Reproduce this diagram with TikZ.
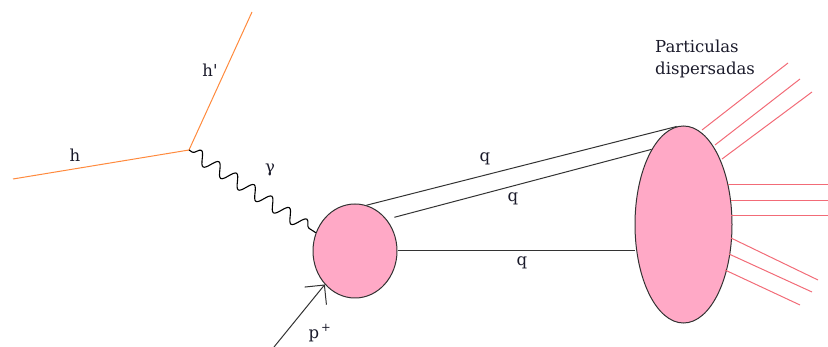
\documentclass[tikz,border=0pt]{standalone}
\usepackage{fontspec}
\setmainfont{DejaVu Serif}
\usetikzlibrary{shapes.geometric,arrows.meta,decorations.pathmorphing}
\definecolor{hadron}{HTML}{FF8A3D}
\definecolor{blob}{HTML}{FFA9C6}
\definecolor{jet}{HTML}{F26B77}
\definecolor{outl}{HTML}{333333}
\definecolor{txtc}{HTML}{1A1A2A}
\begin{document}
\begin{tikzpicture}[x=1pt,y=-1pt,
  lbl/.style={font=\fontsize{16.5}{22}\selectfont, text=txtc, inner sep=0pt},
  hline/.style={draw=hadron, line width=1pt},
  qline/.style={draw=outl, line width=1pt},
  jetline/.style={draw=jet, line width=1pt},
  blobshape/.style={ellipse, draw=outl, fill=blob, line width=1pt, inner sep=0pt},
  photon/.style={draw=black, line width=1.1pt, decorate,
    decoration={snake, amplitude=6.5pt, segment length=21pt, pre length=4pt, post length=3pt}}]
\useasboundingbox (0,0) rectangle (828,347);

% hadron lines
\coordinate (hin) at (13,179);
\coordinate (v) at (189,150);
\coordinate (hout) at (252,12);
\draw[hline] (hin) -- (v) -- (hout);
\node[lbl] (lh) at (75,155) {h};
\node[lbl] (lhp) at (210,70) {h\textquotesingle};

% blobs
\node[blobshape, minimum width=84pt, minimum height=94pt] (s) at (355,251) {};
\node[blobshape, minimum width=97pt, minimum height=197pt] (b) at (683.5,224.5) {};

% photon
\draw[photon] (v) -- (s.155);
\node[lbl] (lg) at (270,170) {γ};

% quarks
\draw[qline] (s.76) -- (b.94);
\draw[qline, shorten <=8pt] (s.45) -- (b.113);
\draw[qline] (s.east) -- (s.east -| b.west);
\node[lbl] (q1) at (485,159) {q};
\node[lbl] (q2) at (513,199) {q};
\node[lbl] (q3) at (522,263) {q};

% proton
\coordinate (pin) at (274,347);
\draw[qline, -{Straight Barb[length=14pt,width=28pt,line width=1pt]}] (pin) -- (s.228);
\node[lbl] (lp) at (320,333) {p\textsuperscript{\,+}};

% scattered particles
\coordinate (a1) at (702,130); \coordinate (e1) at (788,63);
\coordinate (a2) at (715,145); \coordinate (e2) at (800,79);
\coordinate (a3) at (722,159); \coordinate (e3) at (812,92);
\coordinate (a4) at (728,185); \coordinate (e4) at (828,185);
\coordinate (a5) at (731,201); \coordinate (e5) at (828,201);
\coordinate (a6) at (731,216); \coordinate (e6) at (828,216);
\coordinate (a7) at (731,238); \coordinate (e7) at (818,280);
\coordinate (a8) at (729,254); \coordinate (e8) at (812,292);
\coordinate (a9) at (725,270); \coordinate (e9) at (800,305);
\foreach \i in {1,...,9} {\draw[jetline] (a\i) -- (e\i);}

\node[lbl, anchor=base west, align=left] (txt) at (655,75) {Particulas\\dispersadas};
\end{tikzpicture}
\end{document}
